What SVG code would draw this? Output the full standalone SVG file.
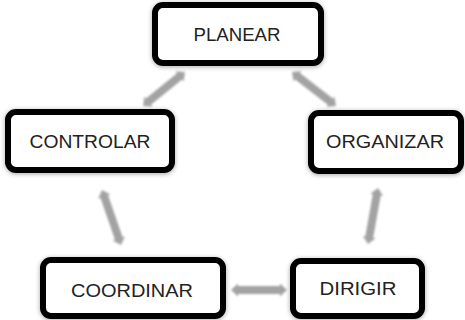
<svg xmlns="http://www.w3.org/2000/svg" width="465" height="320" viewBox="0 0 465 320">
<style>
.box{fill:#fff;stroke:#000;stroke-width:6;filter:url(#sh)}
.lbl{font-family:"Liberation Sans","Open Sans",sans-serif;font-size:18px;fill:#222;text-anchor:middle}
.arr{fill:#a3a3a3;filter:url(#bl)}
</style>
<defs>
<filter id="sh" x="-20%" y="-30%" width="140%" height="160%">
<feGaussianBlur in="SourceAlpha" stdDeviation="2.5"/>
<feOffset dx="0" dy="1" result="b"/>
<feComponentTransfer><feFuncA type="linear" slope="0.35"/></feComponentTransfer>
<feMerge><feMergeNode/><feMergeNode in="SourceGraphic"/></feMerge>
</filter>
<filter id="bl" x="-20%" y="-50%" width="140%" height="200%">
<feGaussianBlur stdDeviation="1.1"/>
</filter>
</defs>
<rect width="465" height="320" fill="#fff"/>
<g id="connectors">
<g transform="translate(185,72) rotate(141)"><path class="arr" d="M0,0 L7,-6.5 L7,-4 L47,-4 L47,-6.5 L54,0 L47,6.5 L47,4 L7,4 L7,6.5 Z"/></g>
<g transform="translate(292,72) rotate(37.7)"><path class="arr" d="M0,0 L7,-6.5 L7,-4 L48.6,-4 L48.6,-6.5 L55.6,0 L48.6,6.5 L48.6,4 L7,4 L7,6.5 Z"/></g>
<g transform="translate(102,190) rotate(70.9)"><path class="arr" d="M0,0 L7,-6.5 L7,-4 L51.2,-4 L51.2,-6.5 L58.2,0 L51.2,6.5 L51.2,4 L7,4 L7,6.5 Z"/></g>
<g transform="translate(368,244) rotate(-79.9)"><path class="arr" d="M0,0 L7,-6.5 L7,-4 L49.9,-4 L49.9,-6.5 L56.9,0 L49.9,6.5 L49.9,4 L7,4 L7,6.5 Z"/></g>
<g transform="translate(231,290)"><path class="arr" d="M0,0 L7,-6.5 L7,-4 L49,-4 L49,-6.5 L56,0 L49,6.5 L49,4 L7,4 L7,6.5 Z"/></g>
</g>
<g id="planear">
<rect class="box" x="155" y="5" width="166" height="58" rx="8"/>
<text class="lbl" x="237" y="41" textLength="87" lengthAdjust="spacingAndGlyphs">PLANEAR</text>
</g>
<g id="controlar">
<rect class="box" x="8" y="112" width="164" height="58" rx="8"/>
<text class="lbl" x="90" y="148" textLength="121" lengthAdjust="spacingAndGlyphs">CONTROLAR</text>
</g>
<g id="organizar">
<rect class="box" x="311" y="113" width="150" height="58" rx="8"/>
<text class="lbl" x="385" y="148" textLength="118" lengthAdjust="spacingAndGlyphs">ORGANIZAR</text>
</g>
<g id="coordinar">
<rect class="box" x="43" y="260" width="180" height="56" rx="8"/>
<text class="lbl" x="132" y="297" textLength="122" lengthAdjust="spacingAndGlyphs">COORDINAR</text>
</g>
<g id="dirigir">
<rect class="box" x="293" y="261" width="129" height="55" rx="8"/>
<text class="lbl" x="358" y="295" textLength="77" lengthAdjust="spacingAndGlyphs">DIRIGIR</text>
</g>
</svg>
